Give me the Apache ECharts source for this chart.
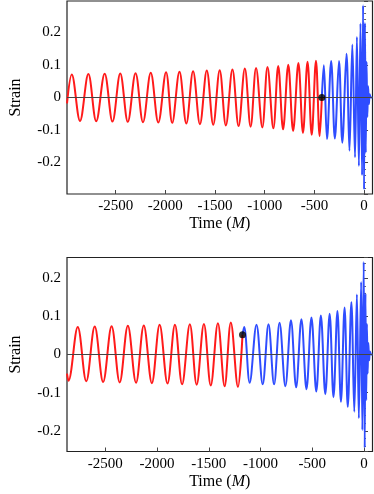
<!DOCTYPE html>
<html>
<head>
<meta charset="utf-8">
<script src="https://cdn.jsdelivr.net/npm/echarts@6/dist/echarts.min.js"></script>
<style>
  html, body { margin: 0; padding: 0; background: #fff; }
  #main { width: 374px; height: 494px; }
</style>
</head>
<body>
<div id="main"></div>
<script>
// waveform: extrema of each cycle (time in M, strain)
// top panel - post-Newtonian part (red)
const topPnTime = [-2990, -2942, -2859, -2775, -2696, -2611, -2532, -2454, -2378, -2300, -2225,
  -2147, -2071, -1993, -1931, -1858, -1789, -1721, -1652, -1583, -1518, -1453, -1391, -1325,
  -1263, -1200, -1142, -1087, -1024, -972, -913, -864, -815, -763, -714, -661, -615, -569,
  -527, -484, -447, -425];
const topPnStrain = [-0.018, 0.071, -0.072, 0.072, -0.073, 0.073, -0.074, 0.074, -0.075, 0.075,
  -0.076, 0.076, -0.077, 0.078, -0.078, 0.079, -0.080, 0.081, -0.082, 0.083, -0.084, 0.084,
  -0.086, 0.086, -0.088, 0.089, -0.090, 0.091, -0.092, 0.094, -0.095, 0.097, -0.098, 0.101,
  -0.103, 0.106, -0.109, 0.110, -0.115, 0.113, -0.119, 0];
// top panel - numerical relativity part (blue)
const topNrTime = [-425, -405, -373, -331, -294, -252, -219, -177, -147, -118, -91, -72, -52,
  -36, -20, -10, 0, 9, 17, 25, 33, 41, 49, 57, 68, 85];
const topNrStrain = [0, 0.099, -0.128, 0.112, -0.126, 0.112, -0.139, 0.135, -0.164, 0.163,
  -0.184, 0.186, -0.211, 0.228, -0.239, 0.284, -0.283, 0.23, -0.17, 0.11, -0.06, 0.035, -0.02,
  0.01, 0, 0];
const topMatch = [-425, 0];

// bottom panel
const botPnTime = [-2870, -2856, -2766, -2684, -2602, -2521, -2439, -2361, -2282, -2203, -2128,
  -2050, -1975, -1899, -1827, -1758, -1683, -1617, -1547, -1481, -1412, -1347, -1287, -1218, -1174];
const botPnStrain = [-0.05, -0.069, 0.072, -0.070, 0.073, -0.072, 0.074, -0.073, 0.075, -0.074,
  0.076, -0.075, 0.078, -0.076, 0.078, -0.078, 0.079, -0.079, 0.080, -0.081, 0.082, -0.083,
  0.084, -0.085, 0.052];
const botNrTime = [-1174, -1158, -1105, -1039, -979, -923, -869, -816, -760, -706, -656, -605,
  -556, -508, -461, -417, -374, -332, -295, -257, -223, -188, -157, -122, -94, -69, -50, -28,
  -16, -3, 7, 14, 21, 28, 35, 42, 50, 57, 68, 82];
const botNrStrain = [0.052, 0.072, -0.074, 0.078, -0.078, 0.079, -0.078, 0.083, -0.083, 0.090,
  -0.086, 0.092, -0.091, 0.097, -0.097, 0.102, -0.104, 0.107, -0.112, 0.114, -0.124, 0.123,
  -0.137, 0.137, -0.150, 0.157, -0.167, 0.190, -0.198, 0.242, -0.244, 0.16, -0.12, 0.08, -0.05,
  0.03, -0.015, 0.008, 0, 0];
const botMatch = [-1174, 0.052];

const zip = (xs, ys) => xs.map((x, i) => [x, ys[i]]);

const serif = "'Liberation Serif', 'DejaVu Serif', serif";
const RED = '#ff1a1a';
const BLUE = '#2f4dff';

let myChart = echarts.init(document.getElementById('main'));

function xAxisFor(idx, min, max) {
  return {
    type: 'value', gridIndex: idx, min: min, max: max, splitNumber: 6,
    name: 'Time ({i|M})', nameLocation: 'middle', nameGap: 22,
    nameTextStyle: {
      fontFamily: serif, fontSize: 16, color: '#000',
      rich: { i: { fontFamily: serif, fontSize: 16, fontStyle: 'italic', color: '#000' } }
    },
    axisLine: { show: false, onZero: false },
    axisTick: { show: true, inside: true, length: 4, lineStyle: { color: '#444' } },
    splitLine: { show: false },
    axisLabel: { showMinLabel: false, showMaxLabel: false, margin: 5,
      formatter: (v) => String(v),
      fontFamily: serif, fontSize: 15, color: '#000' }
  };
}

function yAxisFor(idx, lim, split) {
  return {
    type: 'value', gridIndex: idx, min: -lim, max: lim, splitNumber: split,
    name: 'Strain', nameLocation: 'middle', nameGap: 43,
    nameTextStyle: { fontFamily: serif, fontSize: 16, color: '#000' },
    axisLine: { show: false },
    axisTick: { show: true, inside: true, length: 4, lineStyle: { color: '#444' } },
    minorTick: { show: true, splitNumber: 5, length: 2, lineStyle: { color: '#666' } },
    splitLine: { show: false },
    axisLabel: { showMinLabel: false, showMaxLabel: false, margin: 6,
      formatter: (v) => String(Math.round(v * 10) / 10),
      fontFamily: serif, fontSize: 15, color: '#000' }
  };
}

function wave(idx, data, color) {
  return {
    type: 'line', xAxisIndex: idx, yAxisIndex: idx, data: data,
    smooth: 0.36, showSymbol: false, symbol: 'none', silent: true,
    lineStyle: { color: color, width: 2 }
  };
}

function zeroLine(idx) {
  return {
    type: 'line', xAxisIndex: idx, yAxisIndex: idx, data: [], silent: true,
    markLine: {
      silent: true, symbol: 'none', label: { show: false },
      lineStyle: { color: '#444', width: 1.2, type: 'solid' },
      data: [{ yAxis: 0 }]
    }
  };
}

function dot(idx, point) {
  return {
    type: 'scatter', xAxisIndex: idx, yAxisIndex: idx, data: [point],
    symbolSize: 7, itemStyle: { color: '#000' }, silent: true, z: 5
  };
}

let options = {
  animation: false,
  backgroundColor: '#fff',
  grid: [
    { left: 59, top: 1, width: 313.5, height: 193, show: true,
      borderColor: '#222', borderWidth: 1.2, backgroundColor: 'transparent' },
    { left: 59, top: 257.5, width: 313.5, height: 194, show: true,
      borderColor: '#222', borderWidth: 1.2, backgroundColor: 'transparent' }
  ],
  xAxis: [xAxisFor(0, -2990, 85), xAxisFor(1, -2870, 82)],
  yAxis: [yAxisFor(0, 0.297, 6), yAxisFor(1, 0.254, 5)],
  series: [
    wave(0, zip(topPnTime, topPnStrain), RED),
    wave(0, zip(topNrTime, topNrStrain), BLUE),
    zeroLine(0),
    dot(0, topMatch),
    wave(1, zip(botPnTime, botPnStrain), RED),
    wave(1, zip(botNrTime, botNrStrain), BLUE),
    zeroLine(1),
    dot(1, botMatch)
  ]
};

myChart.setOption(options);
</script>
</body>
</html>
